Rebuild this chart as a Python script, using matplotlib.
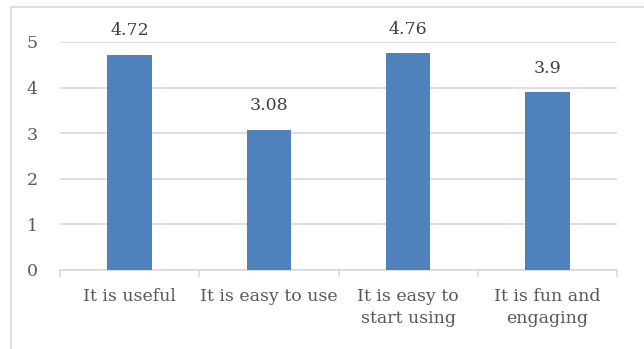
import matplotlib.pyplot as plt
from matplotlib.patches import Rectangle

categories = ["It is useful", "It is easy to use", "It is easy to\nstart using", "It is fun and\nengaging"]
scores = [4.72, 3.08, 4.76, 3.9]
yticks = [0, 1, 2, 3, 4, 5]

plt.rcParams["font.family"] = ["DejaVu Serif"]
text_color = "#595959"
line_color = "#d9d9d9"

fig = plt.figure(figsize=(6.44, 3.49), dpi=100)
ax = fig.add_axes([60 / 644, 1 - 270 / 349, 557 / 644, 228 / 349])

# outer chart border (runs past the right and bottom edges)
fig.patches.append(Rectangle((11 / 644, -0.1), 1.2, 1 - 7 / 349 + 0.1,
                             transform=fig.transFigure, fill=False,
                             edgecolor=line_color, linewidth=1.2))

x = list(range(len(categories)))
bars = ax.bar(x, scores, width=0.32, color="#4f81bd", zorder=3)

for xi, v in zip(x, scores):
    ax.annotate(f"{v:g}", (xi, v), xytext=(0, 11), textcoords="offset points",
                ha="center", va="bottom", fontsize=12.5, color="#404040")

ax.set_xlim(-0.5, len(categories) - 0.5)
ax.set_ylim(0, 5)
ax.set_yticks(yticks)
ax.yaxis.grid(True, color=line_color, linewidth=1.2, zorder=0)
ax.tick_params(axis="y", length=0, pad=16, labelsize=12.5, labelcolor=text_color)

ax.set_xticks(x)
ax.set_xticklabels(categories, fontsize=12.5, color=text_color, linespacing=1.35)
ax.set_xticks([i - 0.5 for i in range(len(categories) + 1)], minor=True)
ax.tick_params(axis="x", which="major", length=0, pad=13)
ax.tick_params(axis="x", which="minor", length=5, color=line_color, width=1.2)

for side in ["top", "right", "left"]:
    ax.spines[side].set_visible(False)
ax.spines["bottom"].set_color(line_color)
ax.spines["bottom"].set_linewidth(1.2)

fig.savefig("out.png", dpi=100)
